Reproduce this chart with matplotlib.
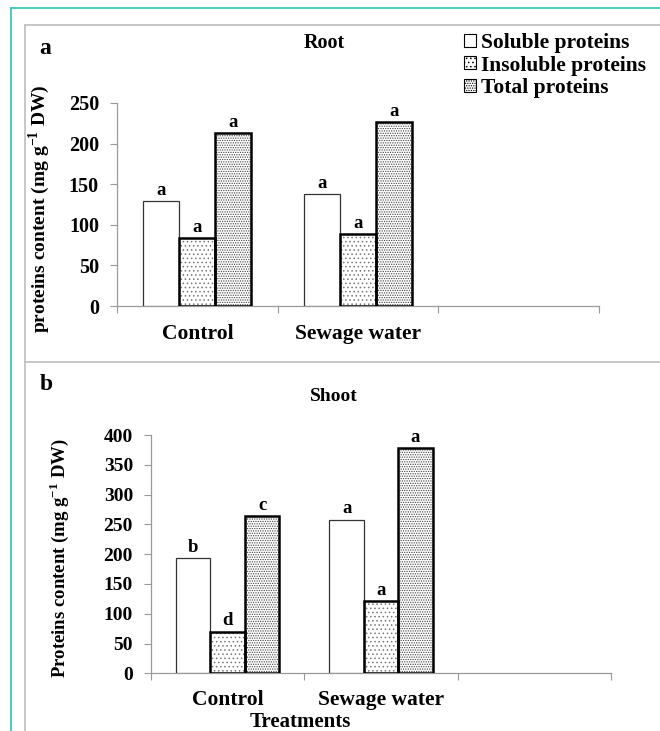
import matplotlib
matplotlib.use("Agg")
import matplotlib.pyplot as plt
import matplotlib.transforms as mtransforms
import numpy as np
from matplotlib.lines import Line2D
from matplotlib.patches import Patch

plt.rcParams['font.family'] = ['Liberation Serif', 'DejaVu Serif']
plt.rcParams['font.weight'] = 'bold'
plt.rcParams['mathtext.fontset'] = 'custom'
plt.rcParams['mathtext.rm'] = 'Liberation Serif:bold'
plt.rcParams['mathtext.bf'] = 'Liberation Serif:bold'
plt.rcParams['hatch.linewidth'] = 0.6

categories = ["Control", "Sewage water"]
series = ["Soluble proteins", "Insoluble proteins", "Total proteins"]

root_soluble = [129, 138]
root_insoluble = [84, 89]
root_total = [213, 227]
root_letters = [["a", "a"], ["a", "a"], ["a", "a"]]

shoot_soluble = [193, 258]
shoot_insoluble = [70, 121]
shoot_total = [264, 378]
shoot_letters = [["b", "a"], ["d", "a"], ["c", "a"]]

root_yticks = [0, 50, 100, 150, 200, 250]
shoot_yticks = [0, 50, 100, 150, 200, 250, 300, 350, 400]

W, H = 660, 731
fig = plt.figure(figsize=(W / 100, H / 100), dpi=100)

# frames
fig.add_artist(Line2D([11 / W, 11 / W], [0, 1 - 8 / H], color='#3cc8b4', lw=1.3, transform=fig.transFigure))
fig.add_artist(Line2D([11 / W, 1], [1 - 8 / H, 1 - 8 / H], color='#3cc8b4', lw=1.3, transform=fig.transFigure))
fig.add_artist(Line2D([24.5 / W, 24.5 / W], [0, 1 - 24.5 / H], color='#bdbdbd', lw=1.2, transform=fig.transFigure))
fig.add_artist(Line2D([24.5 / W, 1], [1 - 24.5 / H, 1 - 24.5 / H], color='#bdbdbd', lw=1.2, transform=fig.transFigure))
fig.add_artist(Line2D([24.5 / W, 1], [1 - 362 / H, 1 - 362 / H], color='#bdbdbd', lw=1.2, transform=fig.transFigure))

bw = 0.224
offsets = [-bw, 0, bw]
hatches = [None, '....', '.......']
hatch_col = [None, '#777777', '#444444']
edge_lw = [0.9, 1.8, 1.8]
edge_col = ['#333333', 'black', 'black']


def panel(rect, data, letters, yticks, ymax, tick_fs, let_fs, cat_fs, cat_y_px,
          ylabel, ylab_fs, ylab_x_px, ylab_y_px):
    ax = fig.add_axes(rect)
    x = np.arange(len(categories))
    for i, vals in enumerate(data):
        xs = x + offsets[i]
        if hatches[i]:
            ax.bar(xs, vals, width=bw, color='white', edgecolor=hatch_col[i],
                   hatch=hatches[i], linewidth=0, zorder=2)
        ax.bar(xs, vals, width=bw, fill=(hatches[i] is None), facecolor='white',
               edgecolor=edge_col[i], linewidth=edge_lw[i], zorder=3)
        for xi, v, l in zip(xs, vals, letters[i]):
            ax.text(xi, v + ymax * 0.01, l, ha='center', va='bottom',
                    fontsize=let_fs, fontweight='bold')
    ax.set_xlim(-0.5, 2.5)
    ax.set_ylim(0, ymax)
    ax.set_yticks(yticks)
    ax.set_yticklabels([str(t) for t in yticks], fontsize=tick_fs, fontweight='bold')
    ax.set_xticks([-0.5, 0.5, 1.5, 2.5])
    ax.set_xticklabels([])
    ax.tick_params(axis='y', length=5, color='#999999', width=0.8, pad=8)
    ax.tick_params(axis='x', length=5, color='#999999', width=0.8, direction='out')
    for s in ['top', 'right']:
        ax.spines[s].set_visible(False)
    for s in ['left', 'bottom']:
        ax.spines[s].set_color('#999999')
        ax.spines[s].set_linewidth(0.9)
    tr = mtransforms.blended_transform_factory(ax.transData, fig.transFigure)
    for xi, c in zip(x, categories):
        ax.text(xi, 1 - cat_y_px / H, c, transform=tr, ha='center', va='center',
                fontsize=cat_fs, fontweight='bold')
    fig.text(ylab_x_px / W, 1 - ylab_y_px / H, ylabel, rotation=90, ha='center', va='center',
             fontsize=ylab_fs, fontweight='bold')
    return ax


ax1 = panel([117 / W, 1 - 306 / H, (599 - 117) / W, (306 - 103) / H],
            [root_soluble, root_insoluble, root_total], root_letters,
            root_yticks, 250, 14.5, 13.5, 15.5, 334,
            r'proteins content (mg g$^{-1}$ DW)', 14, 39, 209)
ax2 = panel([151 / W, 1 - 673.3 / H, (611 - 151) / W, (673.3 - 435) / H],
            [shoot_soluble, shoot_insoluble, shoot_total], shoot_letters,
            shoot_yticks, 400, 14, 13.5, 15.5, 700,
            r'Proteins content (mg g$^{-1}$ DW)', 13.5, 59, 558)

fig.text(45 / W, 1 - 49 / H, 'a', ha='center', va='center', fontsize=17, fontweight='bold')
fig.text(46 / W, 1 - 384 / H, 'b', ha='center', va='center', fontsize=17, fontweight='bold')
fig.text(324 / W, 1 - 43 / H, 'Root', ha='center', va='center', fontsize=14.5, fontweight='bold')
fig.text(334 / W, 1 - 396 / H, 'Shoot', ha='center', va='center', fontsize=14, fontweight='bold')
fig.text(300 / W, 1 - 722 / H, 'Treatments', ha='center', va='center', fontsize=15, fontweight='bold')

# legend
handles = [Patch(facecolor='white', edgecolor='black', linewidth=0.8),
           Patch(facecolor='white', edgecolor='black', hatch='....', linewidth=0.8),
           Patch(facecolor='white', edgecolor='black', hatch='.......', linewidth=0.8)]
fig.legend(handles, series, loc='upper left', bbox_to_anchor=(464 / W, 1 - 33 / H),
           frameon=False, prop={'weight': 'bold', 'size': 15.5}, handlelength=0.55,
           handleheight=0.55, handletextpad=0.25, labelspacing=0.12, borderaxespad=0,
           borderpad=0)

fig.savefig('out.png', dpi=100)
